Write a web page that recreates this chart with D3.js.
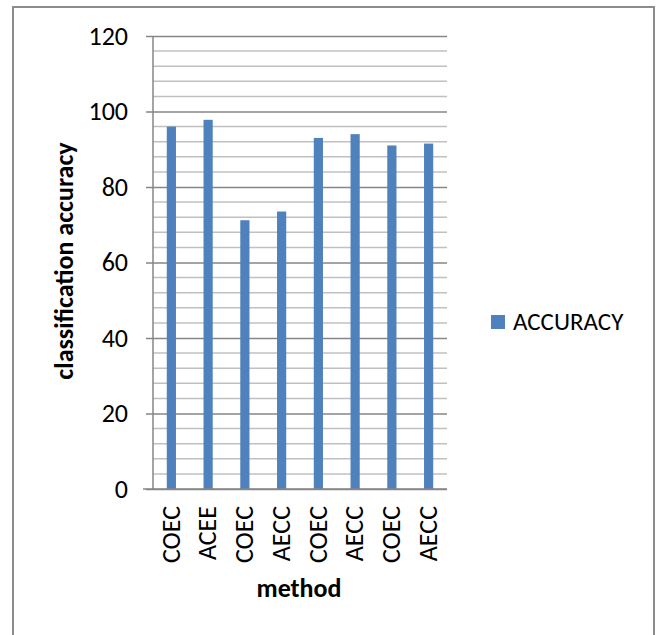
<!DOCTYPE html>
<html>
<head>
<meta charset="utf-8">
<script src="https://cdn.jsdelivr.net/npm/d3@7"></script>
<style>
  html, body { margin: 0; padding: 0; background: #fff; }
  svg { display: block; font-family: Carlito, "Open Sans", sans-serif; }
</style>
</head>
<body>
<svg id="chart" width="656" height="635"></svg>
<script>
// Classification accuracy per method
const methods = ["COEC", "ACEE", "COEC", "AECC", "COEC", "AECC", "COEC", "AECC"];
const accuracy = [96, 97.8, 71.2, 73.5, 93, 94, 91, 91.5];
const seriesName = "ACCURACY";
const yTicks = [0, 20, 40, 60, 80, 100, 120];
const yMinorStep = 4;

const FONT = "Carlito, 'Open Sans', sans-serif";
const svg = d3.select("#chart");
const barColor = "#4F81BD";
const gridMajor = "#868686";
const gridMinor = "#c0c0c0";

// outer chart frame
svg.append("rect")
  .attr("x", 13).attr("y", 7)
  .attr("width", 641).attr("height", 640)
  .attr("fill", "none")
  .attr("stroke", "#8c8c8c")
  .attr("stroke-width", 2);

const plot = { left: 153, right: 447, top: 36, bottom: 489 };

const x = d3.scaleBand()
  .domain(d3.range(methods.length))
  .range([plot.left, plot.right])
  .paddingInner(0.75)
  .paddingOuter(0.375);

const y = d3.scaleLinear()
  .domain([0, 120])
  .range([plot.bottom, plot.top]);

// minor gridlines
const minorVals = d3.range(0, 120 + 0.001, yMinorStep).filter(v => v % 20 !== 0);
svg.append("g").selectAll("line")
  .data(minorVals)
  .join("line")
  .attr("x1", plot.left).attr("x2", plot.right)
  .attr("y1", d => y(d)).attr("y2", d => y(d))
  .attr("stroke", gridMinor)
  .attr("stroke-width", 1.5);

// major gridlines via axis ticks
const yAxis = d3.axisLeft(y)
  .tickValues(yTicks)
  .tickSize(-(plot.right - plot.left))
  .tickPadding(0)
  .tickFormat(d3.format("d"));

const gy = svg.append("g")
  .attr("transform", `translate(${plot.left},0)`)
  .call(yAxis);
gy.select(".domain").remove();
gy.selectAll(".tick line")
  .attr("x1", -7)
  .attr("stroke", gridMajor)
  .attr("stroke-width", 1.5);
gy.selectAll(".tick text")
  .attr("x", -25)
  .attr("dy", "0.32em")
  .attr("font-size", 26)
  .attr("font-family", FONT)
  .attr("fill", "#000");

// vertical axis line
svg.append("line")
  .attr("x1", plot.left).attr("x2", plot.left)
  .attr("y1", plot.top).attr("y2", plot.bottom)
  .attr("stroke", gridMajor)
  .attr("stroke-width", 1.5);

// bars
svg.append("g").selectAll("rect")
  .data(accuracy)
  .join("rect")
  .attr("x", (d, i) => x(i))
  .attr("width", x.bandwidth())
  .attr("y", d => y(d))
  .attr("height", d => y(0) - y(d))
  .attr("fill", barColor);

// horizontal axis
const xAxis = d3.axisBottom(x)
  .tickSize(0)
  .tickFormat(i => methods[i]);
const gx = svg.append("g")
  .attr("transform", `translate(0,${plot.bottom})`)
  .call(xAxis);
gx.select(".domain").remove();
gx.selectAll(".tick text")
  .attr("transform", "rotate(-90)")
  .attr("x", -17)
  .attr("y", 0)
  .attr("dy", "0.32em")
  .attr("text-anchor", "end")
  .attr("font-size", 26)
  .attr("font-family", FONT)
  .attr("fill", "#000");

svg.append("line")
  .attr("x1", plot.left - 10).attr("x2", plot.right)
  .attr("y1", plot.bottom).attr("y2", plot.bottom)
  .attr("stroke", gridMajor)
  .attr("stroke-width", 1.5);

// axis titles
svg.append("text")
  .attr("transform", `translate(65,261) rotate(-90)`)
  .attr("text-anchor", "middle")
  .attr("dy", "0.32em")
  .attr("font-size", 26)
  .attr("font-weight", "bold")
  .text("classification accuracy");

svg.append("text")
  .attr("x", 299).attr("y", 597)
  .attr("text-anchor", "middle")
  .attr("font-size", 26)
  .attr("font-weight", "bold")
  .text("method");

// legend
const legend = svg.append("g").attr("transform", "translate(491,315)");
legend.append("rect")
  .attr("width", 14).attr("height", 14)
  .attr("fill", barColor);
legend.append("text")
  .attr("x", 22).attr("y", 14.5)
  .attr("font-size", 25)
  .attr("fill", "#000")
  .text(seriesName);
</script>
</body>
</html>
